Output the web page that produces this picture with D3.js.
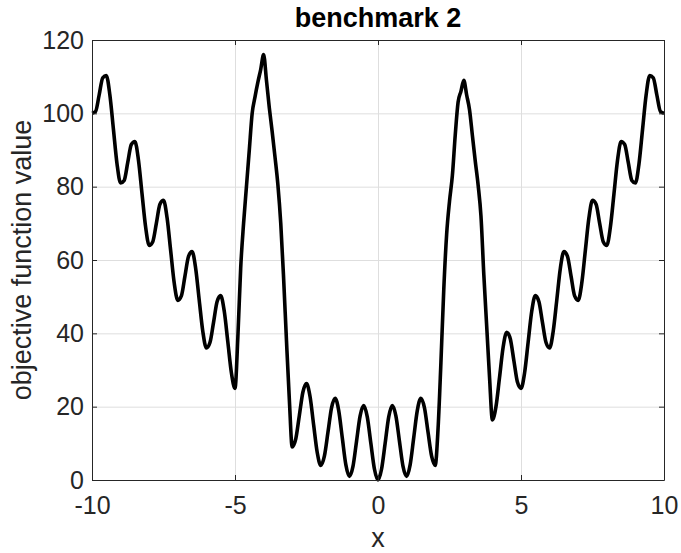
<!DOCTYPE html>
<html>
<head>
<meta charset="utf-8">
<script src="https://cdn.jsdelivr.net/npm/d3@7"></script>
<style>
  body { margin: 0; background: #fff; }
  text { font-family: "Liberation Sans", Arial, sans-serif; fill: #262626; }
</style>
</head>
<body>
<div id="chart"></div>
<script>
var width = 681;
var height = 553;

// plot box, in pixels
var plotLeft = 92, plotRight = 664, plotTop = 40, plotBottom = 480;

// x positions (eighths on the ripples, tenths where it is steep)
var xValues = [
  -10, -9.875, -9.75, -9.625, -9.5, -9.375, -9.25, -9.125,
  -9, -8.875, -8.75, -8.625, -8.5, -8.375, -8.25, -8.125,
  -8, -7.875, -7.75, -7.625, -7.5, -7.375, -7.25, -7.125,
  -7, -6.875, -6.75, -6.625, -6.5, -6.375, -6.25, -6.125,
  -6, -5.875, -5.75, -5.625, -5.5, -5.375, -5.25, -5.125,
  -5, -4.9, -4.8, -4.7, -4.6, -4.5, -4.4, -4.3, -4.2, -4.1,
  -4, -3.9, -3.8, -3.7, -3.6, -3.5, -3.4, -3.3, -3.2, -3.1,
  -3, -2.875, -2.75, -2.625, -2.5, -2.375, -2.25, -2.125,
  -2, -1.875, -1.75, -1.625, -1.5, -1.375, -1.25, -1.125,
  -1, -0.875, -0.75, -0.625, -0.5, -0.375, -0.25, -0.125,
  0, 0.125, 0.25, 0.375, 0.5, 0.625, 0.75, 0.875,
  1, 1.125, 1.25, 1.375, 1.5, 1.625, 1.75, 1.875,
  2, 2.1, 2.2, 2.3, 2.4, 2.5, 2.6, 2.7, 2.8, 2.9,
  3, 3.1, 3.2, 3.3, 3.4, 3.5, 3.6, 3.7, 3.8, 3.9,
  4, 4.125, 4.25, 4.375, 4.5, 4.625, 4.75, 4.875,
  5, 5.125, 5.25, 5.375, 5.5, 5.625, 5.75, 5.875,
  6, 6.125, 6.25, 6.375, 6.5, 6.625, 6.75, 6.875,
  7, 7.125, 7.25, 7.375, 7.5, 7.625, 7.75, 7.875,
  8, 8.125, 8.25, 8.375, 8.5, 8.625, 8.75, 8.875,
  9, 9.125, 9.25, 9.375, 9.5, 9.625, 9.75, 9.875,
  10
];

// objective function value at each x
var yValues = [
  100, 100.5, 105, 109.7, 110.3, 105, 95.6, 86.2,
  81, 81.7, 86.6, 91.5, 92.3, 87.2, 78, 69,
  64, 65, 70, 75.2, 76.3, 71.5, 62.6, 53.7,
  49, 50.2, 55.6, 61, 62.3, 57.7, 49, 40.5,
  36, 37.5, 43, 48.7, 50.3, 46, 37.6, 29.2,
  25, 39, 58, 70, 80, 90, 100, 104.5, 108.5, 112,
  116, 109, 101.5, 95, 88, 80.5, 70, 55, 38, 22,
  9, 11.2, 17.6, 24, 26.3, 22.7, 15, 7.5,
  4, 6.5, 13, 19.7, 22.3, 19, 11.6, 4.2,
  1, 3.7, 10.6, 17.5, 20.3, 17.2, 10, 3,
  0, 3, 10, 17.2, 20.3, 17.5, 10.6, 3.7,
  1, 4.2, 11.6, 19, 22.3, 19.7, 13, 6.5,
  4, 14, 32, 52, 67, 76, 83, 94, 103, 106,
  109, 105, 101, 94, 87, 80.5, 72, 56, 42, 28,
  16.4, 20, 28, 36.2, 40.3, 38.5, 32.6, 26.7,
  25, 29.2, 37.6, 46, 50.3, 48.7, 43, 37.5,
  36, 40.5, 49, 57.7, 62.3, 61, 55.6, 50.2,
  49, 53.7, 62.6, 71.5, 76.3, 75.2, 70, 65,
  64, 69, 78, 87.2, 92.3, 91.5, 86.6, 81.7,
  81, 86.2, 95.6, 105, 110.3, 109.7, 105, 100.5,
  100
];

var xTicks = [-10, -5, 0, 5, 10];
var yTicks = [0, 20, 40, 60, 80, 100, 120];

var titleText = "benchmark 2";
var xLabelText = "x";
var yLabelText = "objective function value";

var points = xValues.map((x, i) => [x, yValues[i]]);

var xScale = d3.scaleLinear().domain([-10, 10]).range([plotLeft, plotRight]);
var yScale = d3.scaleLinear().domain([0, 120]).range([plotBottom, plotTop]);

var gridColor = "#dedede";
var axisColor = "#262626";
var tickFont = 25;
var labelFont = 27;

var svg = d3.select("#chart").append("svg")
  .attr("width", width)
  .attr("height", height);

// grid lines
svg.append("g")
  .attr("transform", "translate(0," + plotBottom + ")")
  .call(d3.axisBottom(xScale).tickValues(xTicks).tickSize(-(plotBottom - plotTop)).tickFormat(""))
  .call(g => g.select(".domain").remove())
  .call(g => g.selectAll("line").attr("stroke", gridColor));

svg.append("g")
  .attr("transform", "translate(" + plotLeft + ",0)")
  .call(d3.axisLeft(yScale).tickValues(yTicks).tickSize(-(plotRight - plotLeft)).tickFormat(""))
  .call(g => g.select(".domain").remove())
  .call(g => g.selectAll("line").attr("stroke", gridColor));

// the curve
var line = d3.line()
  .x(d => xScale(d[0]))
  .y(d => yScale(d[1]))
  .curve(d3.curveMonotoneX);

svg.append("path")
  .datum(points)
  .attr("fill", "none")
  .attr("stroke", "#000")
  .attr("stroke-width", 3.6)
  .attr("stroke-linejoin", "round")
  .attr("d", line);

// axes with inward ticks, mirrored on top and right
var tickLen = 5;
var plainNum = d => String(d);

var xAxis = svg.append("g")
  .attr("class", "frame")
  .attr("transform", "translate(0," + plotBottom + ")")
  .call(d3.axisBottom(xScale).tickValues(xTicks).tickSizeInner(-tickLen).tickSizeOuter(0).tickPadding(16).tickFormat(plainNum));
xAxis.selectAll("text").attr("font-size", tickFont).style("fill", axisColor);

svg.append("g")
  .attr("class", "frame")
  .attr("transform", "translate(0," + plotTop + ")")
  .call(d3.axisTop(xScale).tickValues(xTicks).tickSizeInner(-tickLen).tickSizeOuter(0).tickFormat(""));

var yAxis = svg.append("g")
  .attr("class", "frame")
  .attr("transform", "translate(" + plotLeft + ",0)")
  .call(d3.axisLeft(yScale).tickValues(yTicks).tickSizeInner(-tickLen).tickSizeOuter(0).tickPadding(8).tickFormat(plainNum));
yAxis.selectAll("text").attr("font-size", tickFont).style("fill", axisColor);

svg.append("g")
  .attr("class", "frame")
  .attr("transform", "translate(" + plotRight + ",0)")
  .call(d3.axisRight(yScale).tickValues(yTicks).tickSizeInner(-tickLen).tickSizeOuter(0).tickFormat(""));

svg.selectAll(".frame .domain").attr("stroke", axisColor);
svg.selectAll(".frame .tick line").attr("stroke", axisColor);

// title and labels
svg.append("text")
  .attr("x", (plotLeft + plotRight) / 2).attr("y", 27)
  .attr("text-anchor", "middle")
  .attr("font-size", labelFont)
  .attr("font-weight", "bold")
  .style("fill", "#000")
  .text(titleText);

svg.append("text")
  .attr("x", (plotLeft + plotRight) / 2).attr("y", 547)
  .attr("text-anchor", "middle")
  .attr("font-size", labelFont)
  .text(xLabelText);

svg.append("text")
  .attr("transform", "translate(31," + (plotTop + plotBottom) / 2 + ") rotate(-90)")
  .attr("text-anchor", "middle")
  .attr("font-size", labelFont)
  .text(yLabelText);
</script>
</body>
</html>
